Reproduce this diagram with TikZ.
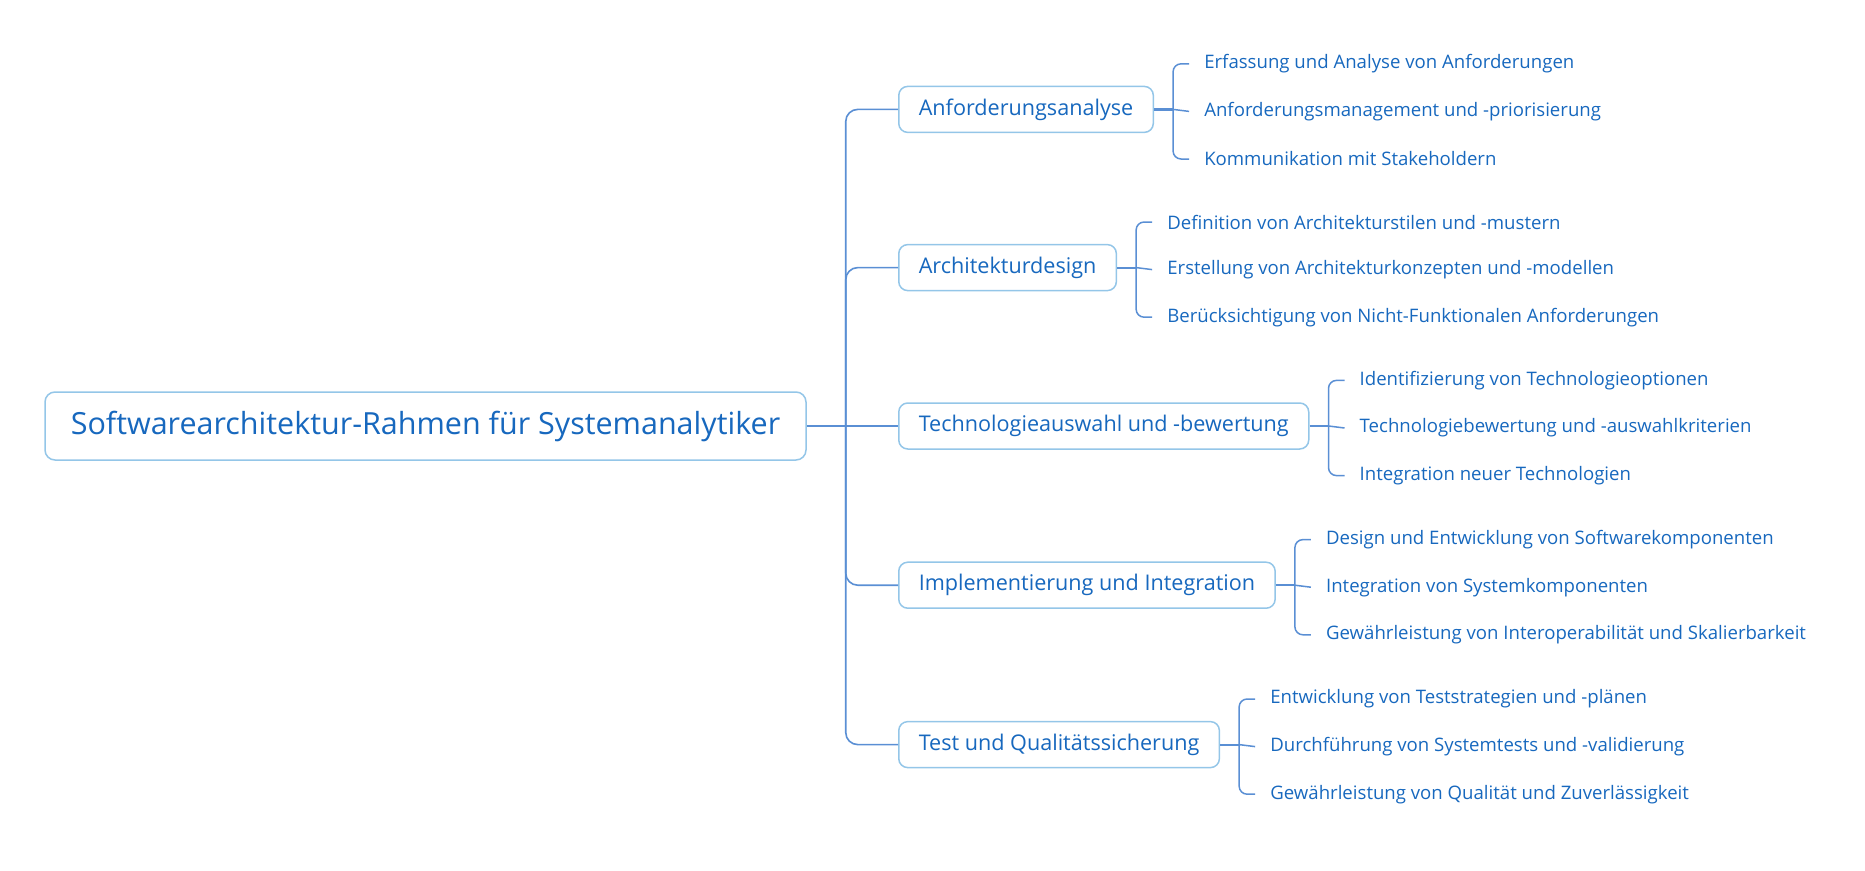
\documentclass[tikz,border=0pt]{standalone}
\usepackage{fontspec}
\setmainfont{Open Sans}
\usetikzlibrary{positioning,calc}
\definecolor{mmtext}{HTML}{1768BE}
\definecolor{mmframe}{HTML}{94C6E8}
\definecolor{mmline}{HTML}{5A8FD4}
\tikzstyle{rootbox} = [draw=mmframe, fill=white, line width=1.5pt,
    rectangle, rounded corners=10pt, minimum height=68pt, minimum width=761pt,
    text=mmtext, font=\fontsize{30.5}{36}\selectfont]
\tikzstyle{topicbox} = [draw=mmframe, fill=white, line width=1.5pt,
    rectangle, rounded corners=9pt, minimum height=46pt, inner xsep=20pt,
    text=mmtext, font=\fontsize{21.6}{26}\selectfont, anchor=west]
\tikzstyle{leaf} = [inner xsep=15pt, inner ysep=0pt, text=mmtext,
    font=\fontsize{18.6}{22}\selectfont, yshift=-2pt]
\tikzstyle{branch} = [draw=mmline, line width=1.6pt, rounded corners=12pt]
\tikzstyle{twig} = [draw=mmline, line width=1.5pt, rounded corners=8pt]

\begin{document}
\begin{tikzpicture}[x=1pt, y=-1pt]
\useasboundingbox (0,0) rectangle (1865,870);
\node [rootbox] (root) at (425.5,426) {Softwarearchitektur-Rahmen für Systemanalytiker};
\coordinate (hub) at ($(root.east)+(39,0)$);

\node [topicbox] (req) at (898,109.4) {Anforderungsanalyse};
\node [topicbox] (arch) at (898,267.6) {Architekturdesign};
\node [topicbox] (tech) at (898,426) {Technologieauswahl und -bewertung};
\node [topicbox] (impl) at (898,585.2) {Implementierung und Integration};
\node [topicbox] (test) at (898,744.6) {Test und Qualitätssicherung};

\node [leaf, right=35pt of req, yshift=47.6pt] (req1) {Erfassung und Analyse von Anforderungen};
\node [leaf, right=35pt of req] (req2) {Anforderungsmanagement und -priorisierung};
\node [leaf, right=35pt of req, yshift=-47.6pt] (req3) {Kommunikation mit Stakeholdern};

\node [leaf, right=35pt of arch, yshift=47.6pt] (arch1) {Definition von Architekturstilen und -mustern};
\node [leaf, right=35pt of arch] (arch2) {Erstellung von Architekturkonzepten und -modellen};
\node [leaf, right=35pt of arch, yshift=-47.6pt] (arch3) {Berücksichtigung von Nicht-Funktionalen Anforderungen};

\node [leaf, right=35pt of tech, yshift=47.6pt] (tech1) {Identifizierung von Technologieoptionen};
\node [leaf, right=35pt of tech] (tech2) {Technologiebewertung und -auswahlkriterien};
\node [leaf, right=35pt of tech, yshift=-47.6pt] (tech3) {Integration neuer Technologien};

\node [leaf, right=35pt of impl, yshift=47.6pt] (impl1) {Design und Entwicklung von Softwarekomponenten};
\node [leaf, right=35pt of impl] (impl2) {Integration von Systemkomponenten};
\node [leaf, right=35pt of impl, yshift=-47.6pt] (impl3) {Gewährleistung von Interoperabilität und Skalierbarkeit};

\node [leaf, right=35pt of test, yshift=47.6pt] (test1) {Entwicklung von Teststrategien und -plänen};
\node [leaf, right=35pt of test] (test2) {Durchführung von Systemtests und -validierung};
\node [leaf, right=35pt of test, yshift=-47.6pt] (test3) {Gewährleistung von Qualität und Zuverlässigkeit};

\draw [branch, line width=2.6pt] (root.east) -- (hub);
\draw [branch] (hub) -- (tech.west);
\foreach \t in {req,arch,impl,test}
    \draw [branch] (hub) |- (\t.west);
\foreach \t in {req,arch,tech,impl,test} {
    \coordinate (\t j) at ($(\t.east)+(19,0)$);
    \draw [twig, line width=2.2pt] (\t.east) -- (\t j);
    \draw [twig] (\t j) |- (\t1.west);
    \draw [twig] (\t j) -- (\t2.west);
    \draw [twig] (\t j) |- (\t3.west);
}
\end{tikzpicture}
\end{document}
